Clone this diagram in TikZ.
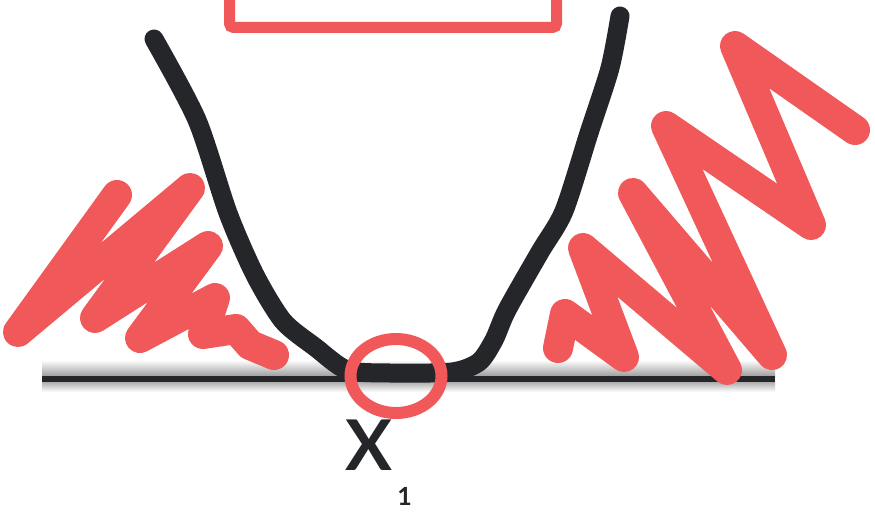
\documentclass[tikz,border=0pt]{standalone}
\usepackage{fontspec}
\newfontfamily\lblfont{Lato}
\definecolor{scrib}{HTML}{F0585A}
\definecolor{ink}{HTML}{25262A}
\begin{document}
\begin{tikzpicture}[x=1pt,y=-1pt,
  redstroke/.style={draw=scrib, line width=30pt, line cap=round, line join=round},
  blackstroke/.style={draw=ink, line width=19pt, line cap=round, line join=round},
  lbl/.style={inner sep=0pt, text=ink}]
\useasboundingbox (0,0) rectangle (875,513);
\clip (0,0) rectangle (875,513);
% soft shadow around the axis
\shade[top color=white, bottom color=black!40] (42,360) rectangle (775,377);
\shade[top color=black!35, bottom color=white] (42,381) rectangle (775,392);
% axis
\draw[draw=ink, line width=6pt] (42,379) coordinate (axl) -- (775,379) coordinate (axr);
% left scribble
\draw[redstroke] (117,195) -- (18,332) -- (190,188) -- (95,318) -- (208,246) -- (140,338)
  -- (215,298) -- (203,334) -- (236,329) -- (250,345) -- (274,355);
% right scribble
\draw[redstroke] (558,348) -- (565,314) -- (624,357) -- (583,248) -- (727,370) -- (633,193)
  -- (772,355) -- (666,126) -- (811,225) -- (735,46) -- (855,130);
% curve
\draw[blackstroke] plot[smooth, tension=0.45] coordinates {(154,39) (197,120) (228,213)
  (255,275) (283,321) (315,347) (347,370) (390,373) (452,372) (479,362) (494,340)
  (507,310) (540,252) (564,211) (589,133) (610,68) (620,16)};
% minimum marker
\draw[draw=scrib, line width=12pt] (396,376) ellipse [x radius=45.5pt, y radius=37pt];
% box at top
\draw[draw=scrib, line width=11pt, rounded corners=4pt] (229.5,-20) rectangle (556.5,27.5);
% labels
\node[lbl, font=\lblfont\bfseries\fontsize{70}{70}\selectfont] (xlbl) at (368.5,445) {X};
\node[lbl, font=\lblfont\bfseries\fontsize{25}{25}\selectfont] (sub) at (404.5,496) {1};
\end{tikzpicture}
\end{document}
